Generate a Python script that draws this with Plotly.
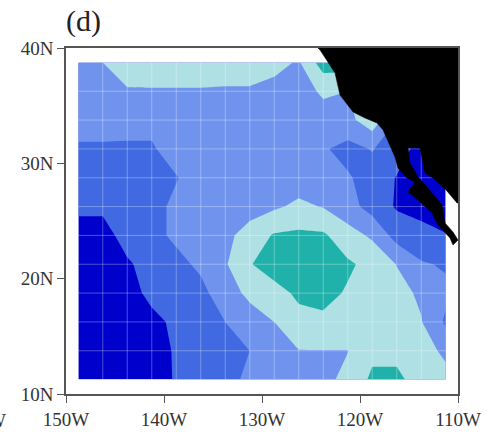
import plotly.graph_objects as go

lons = [-148.75, -146.25, -143.75, -141.25, -138.75, -136.25, -133.75, -131.25,
        -128.75, -126.25, -123.75, -121.25, -118.75, -116.25, -113.75, -111.25]
lats = [38.75, 36.25, 33.75, 31.25, 28.75, 26.25, 23.75, 21.25, 18.75, 16.25, 13.75, 11.25]

row_3875 = [2.6, 3.0, 3.6, 3.7, 3.7, 3.7, 3.7, 3.7, 3.3, 2.9, 4.5, 4.5, 3.8, 3.5, 3.0, 2.5]
row_3625 = [2.5, 2.7, 2.9, 2.9, 2.9, 2.9, 2.85, 2.85, 2.7, 2.6, 3.15, 3.0, 3.5, 3.0, 2.5, 2.0]
row_3375 = [2.3, 2.3, 2.25, 2.25, 2.5, 2.6, 2.6, 2.6, 2.6, 2.6, 2.6, 2.7, 3.6, 2.0, 1.5, 1.0]
row_3125 = [1.9, 1.9, 1.9, 1.9, 2.4, 2.5, 2.5, 2.5, 2.5, 2.4, 2.1, 1.7, 2.05, 1.5, 0.6, 0.5]
row_2875 = [1.5, 1.5, 1.6, 1.7, 1.95, 2.5, 2.5, 2.5, 2.5, 2.5, 2.4, 2.1, 1.6, 0.95, 0.5, 0.3]
row_2625 = [1.15, 1.15, 1.4, 1.7, 2.2, 2.3, 2.4, 2.6, 2.85, 3.2, 2.95, 2.4, 1.6, 0.9, 0.7, 0.5]
row_2375 = [0.7, 0.7, 1.3, 1.7, 2.2, 2.5, 2.75, 3.4, 4.1, 4.2, 4.15, 3.4, 2.85, 1.6, 1.3, 1.05]
row_2125 = [0.4, 0.5, 0.9, 1.3, 1.7, 2.2, 2.9, 3.9, 4.8, 4.9, 4.6, 4.15, 3.7, 2.97, 2.1, 1.9]
row_1875 = [0.3, 0.3, 0.7, 1.2, 1.4, 1.7, 2.6, 3.2, 3.4, 4.3, 4.3, 3.9, 3.6, 3.3, 2.85, 2.2]
row_1625 = [0.3, 0.3, 0.4, 0.8, 1.15, 1.5, 2.0, 2.6, 3.0, 3.5, 3.8, 3.7, 3.5, 3.4, 3.05, 1.85]
row_1375 = [0.3, 0.3, 0.4, 0.6, 1.1, 1.4, 1.7, 2.0, 2.5, 2.98, 2.98, 2.98, 3.75, 3.75, 3.4, 2.8]
row_1125 = [0.2, 0.2, 0.3, 0.5, 1.1, 1.3, 1.7, 2.2, 2.5, 2.7, 2.8, 3.2, 4.2, 4.2, 3.6, 3.3]
field = [row_3875, row_3625, row_3375, row_3125, row_2875, row_2625,
         row_2375, row_2125, row_1875, row_1625, row_1375, row_1125]

land_lon = [-124.29, -124.08, -122.55, -122.35, -122.04, -120.71, -119.49, -118.27, -117.65,
            -116.43, -116.12, -115.2, -114.39, -115.1, -114.08, -112.65, -112.04, -110.82,
            -110.51, -110.0, -110.51, -111.33, -111.63, -113.06, -114.08, -114.9, -115.1,
            -113.88, -113.37, -112.55, -111.22, -110.1, -110.0, -110.0, -124.29]
land_lat = [40.0, 39.83, 37.83, 36.97, 35.92, 34.45, 33.93, 33.5, 32.89,
            30.55, 29.6, 28.73, 28.38, 27.51, 26.82, 25.69, 24.65, 23.53,
            22.92, 23.35, 24.05, 24.83, 26.39, 27.86, 28.81, 30.03, 31.33,
            31.33, 29.16, 28.73, 27.69, 26.56, 26.56, 40.0, 40.0]

x_ticks = [-150, -140, -130, -120, -110]
x_labels = ["150W", "140W", "130W", "120W", "110W"]
y_ticks = [10, 20, 30, 40]
y_labels = ["10N", "20N", "30N", "40N"]

band_colors = ["#0000CD", "#4169E1", "#7094EE", "#AEE0E4", "#20B2AA"]
scale = []
for i, c in enumerate(band_colors):
    scale += [[i / 5, c], [(i + 1) / 5, c]]

SERIF = "Liberation Serif"
INK = "#333333"
fig = go.Figure()
fig.add_trace(go.Contour(
    x=lons, y=lats, z=field, zmin=0, zmax=5, colorscale=scale, showscale=False,
    autocontour=False, contours=dict(start=1, end=4, size=1, coloring="fill", showlines=False),
    line=dict(width=0, smoothing=0), hoverinfo="skip"))

grid_style = dict(color="rgba(255,255,255,0.3)", width=1)
for lon in lons:
    fig.add_trace(go.Scatter(x=[lon, lon], y=[lats[-1], lats[0]], mode="lines",
                             line=grid_style, hoverinfo="skip", showlegend=False))
for lat in lats:
    fig.add_trace(go.Scatter(x=[lons[0], lons[-1]], y=[lat, lat], mode="lines",
                             line=grid_style, hoverinfo="skip", showlegend=False))

fig.add_trace(go.Scatter(x=land_lon, y=land_lat, mode="lines", fill="toself",
                         fillcolor="#000000", line=dict(color="#000000", width=0.5),
                         hoverinfo="skip", showlegend=False))

axis = dict(showgrid=False, zeroline=False, showline=True, mirror=True, linecolor="#555555",
            linewidth=1.5, ticks="outside", ticklen=7, tickcolor="#555555", tickwidth=1,
            automargin=False, tickfont=dict(family=SERIF, size=19, color=INK))
fig.update_layout(
    width=487, height=433, autosize=False,
    margin=dict(l=66, r=29, t=48, b=39),
    paper_bgcolor="white", plot_bgcolor="white", showlegend=False,
    xaxis=dict(range=[-150, -110], tickvals=x_ticks, ticktext=x_labels, **axis),
    yaxis=dict(range=[10, 40], tickvals=y_ticks, ticktext=y_labels, **axis),
    annotations=[
        dict(text="(d)", xref="paper", yref="paper", x=0, y=1, xanchor="left", yanchor="bottom",
             xshift=-2, yshift=8, showarrow=False, font=dict(family=SERIF, size=30, color="#222222")),
        dict(text="W", xref="paper", yref="paper", x=0, y=0, xanchor="right", yanchor="top",
             xshift=-58, yshift=-14, showarrow=False, font=dict(family=SERIF, size=19, color=INK)),
    ],
)
fig.write_html("out.html", config=dict(displayModeBar=False),
               post_script="document.body.style.margin='0';")
